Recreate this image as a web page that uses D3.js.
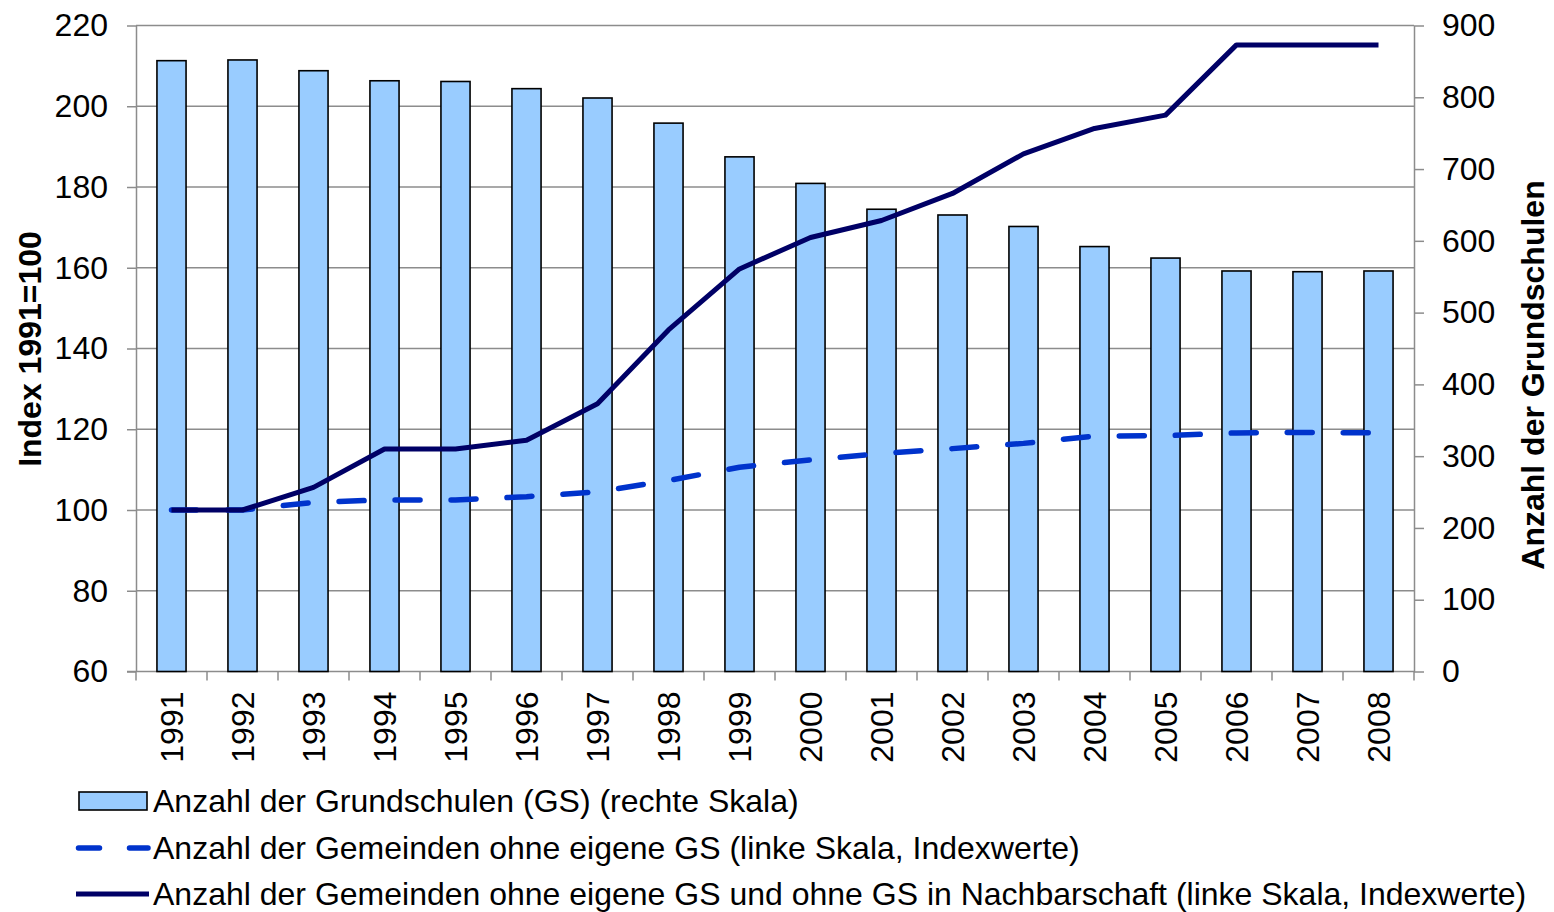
<!DOCTYPE html>
<html>
<head>
<meta charset="utf-8">
<script src="https://cdn.jsdelivr.net/npm/d3@7"></script>
<style>
  html, body { margin: 0; padding: 0; background: #fff; }
  svg { display: block; font-family: "Liberation Sans", Arial, sans-serif; }
</style>
</head>
<body>
<div id="chart"></div>
<script>
// data
const years = ["1991","1992","1993","1994","1995","1996","1997","1998","1999",
               "2000","2001","2002","2003","2004","2005","2006","2007","2008"];
const schools = [851, 852, 837, 823, 822, 812, 799, 764, 717, 680, 644, 636, 620, 592, 576, 558, 557, 558];
const ohneGS = [100, 100, 101.9, 102.5, 102.5, 103.3, 104.5, 107.3, 110.6, 112.4, 114, 115.2, 116.5, 118.3, 118.4, 119.1, 119.2, 119.1];
const ohneNachbar = [100, 100, 105.6, 115.1, 115.1, 117.3, 126.3, 144.6, 159.7, 167.5, 171.7, 178.4, 188.2, 194.5, 197.8, 215.2, 215.2, 215.2];
const leftTicks = [60, 80, 100, 120, 140, 160, 180, 200, 220];
const rightTicks = [0, 100, 200, 300, 400, 500, 600, 700, 800, 900];
const legendLabels = [
  "Anzahl der Grundschulen (GS) (rechte Skala)",
  "Anzahl der Gemeinden ohne eigene GS (linke Skala, Indexwerte)",
  "Anzahl der Gemeinden ohne eigene GS und ohne GS in Nachbarschaft (linke Skala, Indexwerte)"
];

const W = 1554, H = 912;
const plot = {left: 136, right: 1414, top: 25.5, bottom: 671.5};
const GRID = "#8c8c8c";
const FONT = 32;

const svg = d3.select("#chart").append("svg")
    .attr("width", W).attr("height", H)
    .attr("viewBox", [0, 0, W, H]);

const x = d3.scaleBand()
    .domain(years)
    .range([plot.left, plot.right])
    .paddingInner(0.59)
    .paddingOuter(0.295);
const xEdge = d3.scaleBand().domain(years).range([plot.left, plot.right]).padding(0);
const xc = d => x(d) + x.bandwidth() / 2;

const yL = d3.scaleLinear().domain([60, 220]).range([plot.bottom, plot.top]);
const yR = d3.scaleLinear().domain([0, 900]).range([plot.bottom, plot.top]);

// gridlines (left scale)
svg.append("g")
    .selectAll("line")
    .data(leftTicks.slice(1))
    .join("line")
      .attr("x1", plot.left).attr("x2", plot.right)
      .attr("y1", d => yL(d)).attr("y2", d => yL(d))
      .attr("stroke", GRID).attr("stroke-width", 1.5);

// left axis
svg.append("g")
    .attr("transform", `translate(${plot.left},0)`)
    .call(d3.axisLeft(yL).tickValues(leftTicks).tickSize(9).tickPadding(19).tickSizeOuter(0))
    .call(g => g.select(".domain").attr("stroke", GRID).attr("stroke-width", 1.5))
    .call(g => g.selectAll(".tick line").attr("stroke", GRID).attr("stroke-width", 1.5))
    .call(g => g.selectAll(".tick text").attr("font-size", FONT).attr("fill", "#000")
        .attr("font-family", "'Liberation Sans', Arial, sans-serif"));

// right axis
svg.append("g")
    .attr("transform", `translate(${plot.right},0)`)
    .call(d3.axisRight(yR).tickValues(rightTicks).tickSize(10).tickPadding(18).tickSizeOuter(0))
    .call(g => g.select(".domain").attr("stroke", GRID).attr("stroke-width", 1.5))
    .call(g => g.selectAll(".tick line").attr("stroke", GRID).attr("stroke-width", 1.5))
    .call(g => g.selectAll(".tick text").attr("font-size", FONT).attr("fill", "#000")
        .attr("font-family", "'Liberation Sans', Arial, sans-serif"));

// bottom axis: ticks at category boundaries
const bottom = svg.append("g");
bottom.append("line")
    .attr("x1", plot.left - 9).attr("x2", plot.right)
    .attr("y1", plot.bottom).attr("y2", plot.bottom)
    .attr("stroke", GRID).attr("stroke-width", 1.5);
bottom.selectAll("line.tk")
    .data(years.map(d => xEdge(d)).concat([plot.right]))
    .join("line").attr("class", "tk")
      .attr("x1", d => d).attr("x2", d => d)
      .attr("y1", plot.bottom).attr("y2", plot.bottom + 9)
      .attr("stroke", GRID).attr("stroke-width", 1.5);
bottom.selectAll("text")
    .data(years)
    .join("text")
      .attr("transform", d => `translate(${xc(d)},${plot.bottom + 20}) rotate(-90)`)
      .attr("text-anchor", "end")
      .attr("dy", "0.35em")
      .attr("font-size", FONT)
      .text(d => d);

// bars (right scale)
svg.append("g")
    .selectAll("rect")
    .data(years)
    .join("rect")
      .attr("x", d => x(d))
      .attr("y", (d, i) => yR(schools[i]))
      .attr("width", x.bandwidth())
      .attr("height", (d, i) => yR(0) - yR(schools[i]))
      .attr("fill", "#99ccff")
      .attr("stroke", "#000")
      .attr("stroke-width", 1.6);

// lines (left scale)
const line = d3.line()
    .x((d, i) => xc(years[i]))
    .y(d => yL(d));

svg.append("path")
    .datum(ohneGS)
    .attr("d", line)
    .attr("fill", "none")
    .attr("stroke", "#0033cc")
    .attr("stroke-width", 5.5)
    .attr("stroke-linecap", "round")
    .attr("stroke-linejoin", "round")
    .attr("stroke-dasharray", "25,31");

svg.append("path")
    .datum(ohneNachbar)
    .attr("d", line)
    .attr("fill", "none")
    .attr("stroke", "#000066")
    .attr("stroke-width", 5)
    .attr("stroke-linejoin", "round");

// axis titles
svg.append("text")
    .attr("transform", `translate(30,349) rotate(-90)`)
    .attr("text-anchor", "middle")
    .attr("dy", "0.35em")
    .attr("font-size", 32)
    .attr("font-weight", "bold")
    .text("Index 1991=100");

svg.append("text")
    .attr("transform", `translate(1533,375) rotate(-90)`)
    .attr("text-anchor", "middle")
    .attr("dy", "0.35em")
    .attr("font-size", 32)
    .attr("font-weight", "bold")
    .text("Anzahl der Grundschulen");

// legend
const legendY = [801, 848, 894];
const legend = svg.append("g");
legend.append("rect")
    .attr("x", 79).attr("y", legendY[0] - 9)
    .attr("width", 68).attr("height", 18)
    .attr("fill", "#99ccff").attr("stroke", "#000").attr("stroke-width", 1.6);
legend.append("line")
    .attr("x1", 78.5).attr("x2", 148).attr("y1", legendY[1]).attr("y2", legendY[1])
    .attr("stroke", "#0033cc").attr("stroke-width", 5.5)
    .attr("stroke-linecap", "round").attr("stroke-dasharray", "21,30");
legend.append("line")
    .attr("x1", 76).attr("x2", 149).attr("y1", legendY[2]).attr("y2", legendY[2])
    .attr("stroke", "#000066").attr("stroke-width", 5);
legend.selectAll("text")
    .data(legendLabels)
    .join("text")
      .attr("x", 153)
      .attr("y", (d, i) => legendY[i])
      .attr("dy", "0.35em")
      .attr("font-size", FONT)
      .text(d => d);
</script>
</body>
</html>
